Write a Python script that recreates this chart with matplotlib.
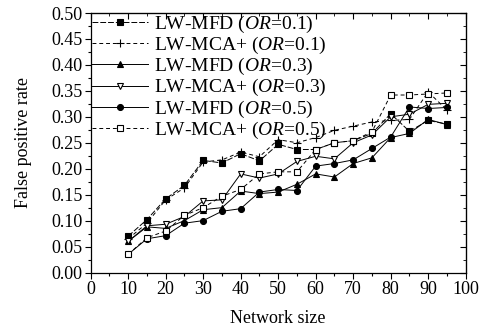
import matplotlib
matplotlib.use("Agg")
import matplotlib.pyplot as plt
from matplotlib.ticker import MultipleLocator

plt.rcParams['font.family'] = ['Liberation Serif', 'DejaVu Serif']
plt.rcParams['mathtext.fontset'] = 'custom'
plt.rcParams['mathtext.rm'] = 'Liberation Serif'
plt.rcParams['mathtext.it'] = 'Liberation Serif:italic'

network_size = [10, 15, 20, 25, 30, 35, 40, 45, 50, 55, 60, 65, 70, 75, 80, 85, 90, 95]

mfd_01 = [0.070, 0.102, 0.142, 0.168, 0.216, 0.211, 0.229, 0.215, 0.247, 0.237, 0.237, 0.250, 0.254, 0.268, 0.306, 0.272, 0.293, 0.286]
mca_01 = [0.065, 0.095, 0.140, 0.163, 0.213, 0.217, 0.232, 0.223, 0.256, 0.250, 0.260, 0.274, 0.282, 0.290, 0.293, 0.295, 0.348, 0.313]
mfd_03 = [0.060, 0.088, 0.085, 0.100, 0.121, 0.125, 0.157, 0.152, 0.155, 0.170, 0.190, 0.184, 0.210, 0.221, 0.260, 0.268, 0.295, 0.285]
mca_03 = [0.060, 0.090, 0.093, 0.108, 0.138, 0.140, 0.190, 0.182, 0.190, 0.214, 0.224, 0.219, 0.250, 0.265, 0.300, 0.305, 0.324, 0.326]
mfd_05 = [0.035, 0.065, 0.071, 0.095, 0.100, 0.118, 0.123, 0.155, 0.160, 0.158, 0.205, 0.210, 0.217, 0.239, 0.261, 0.319, 0.316, 0.318]
mca_05 = [0.035, 0.067, 0.080, 0.110, 0.125, 0.147, 0.160, 0.190, 0.194, 0.194, 0.237, 0.250, 0.254, 0.271, 0.342, 0.342, 0.344, 0.346]

labels = [r'LW-MFD ($\mathit{OR}$=0.1)', r'LW-MCA+ ($\mathit{OR}$=0.1)',
          r'LW-MFD ($\mathit{OR}$=0.3)', r'LW-MCA+ ($\mathit{OR}$=0.3)',
          r'LW-MFD ($\mathit{OR}$=0.5)', r'LW-MCA+ ($\mathit{OR}$=0.5)']

fig = plt.figure(figsize=(4.92, 3.31), dpi=100)
ax = fig.add_axes([0.1843, 0.1767, 0.7622, 0.784])

styles = [
    (mfd_01, 's', 'black', (0, (6, 2))),
    (mca_01, '+', 'none', (0, (4, 3))),
    (mfd_03, '^', 'black', '-'),
    (mca_03, 'v', 'white', '-'),
    (mfd_05, 'o', 'black', '-'),
    (mca_05, 's', 'white', (0, (4, 3))),
]
for (vals, mk, fc, ls), lab in zip(styles, labels):
    ms = 6 if mk == '+' else 4.3
    ax.plot(network_size, vals, color='black', lw=0.7, linestyle=ls,
            marker=mk, markersize=ms, markerfacecolor=fc,
            markeredgecolor='black', markeredgewidth=0.8, label=lab)

ax.set_xlim(0, 100)
ax.set_ylim(0, 0.5)
ax.xaxis.set_major_locator(MultipleLocator(10))
ax.xaxis.set_minor_locator(MultipleLocator(5))
ax.yaxis.set_major_locator(MultipleLocator(0.05))
ax.yaxis.set_minor_locator(MultipleLocator(0.025))
ax.yaxis.set_major_formatter(matplotlib.ticker.FormatStrFormatter('%.2f'))
ax.tick_params(which='major', direction='out', length=4, width=0.8, labelsize=13, pad=2)
ax.tick_params(which='minor', direction='out', length=2.5, width=0.8)
for s in ax.spines.values():
    s.set_linewidth(0.9)

top = ax.secondary_xaxis('top')
top.xaxis.set_major_locator(MultipleLocator(10))
top.xaxis.set_minor_locator(MultipleLocator(5))
top.tick_params(which='major', direction='in', length=4, labeltop=False)
top.tick_params(which='minor', direction='in', length=2.5)
right = ax.secondary_yaxis('right')
right.yaxis.set_major_locator(MultipleLocator(0.05))
right.yaxis.set_minor_locator(MultipleLocator(0.025))
right.tick_params(which='major', direction='in', length=4, labelright=False)
right.tick_params(which='minor', direction='in', length=2.5)

ax.set_xlabel('Network size', fontsize=13, labelpad=9)
ax.set_ylabel('False positive rate', fontsize=13, labelpad=14)

ax.legend(loc='upper left', frameon=False, fontsize=14, handlelength=2.9,
          handletextpad=0.3, labelspacing=0.0, borderaxespad=0.0,
          borderpad=0.05)

fig.savefig('out.png', dpi=100)
